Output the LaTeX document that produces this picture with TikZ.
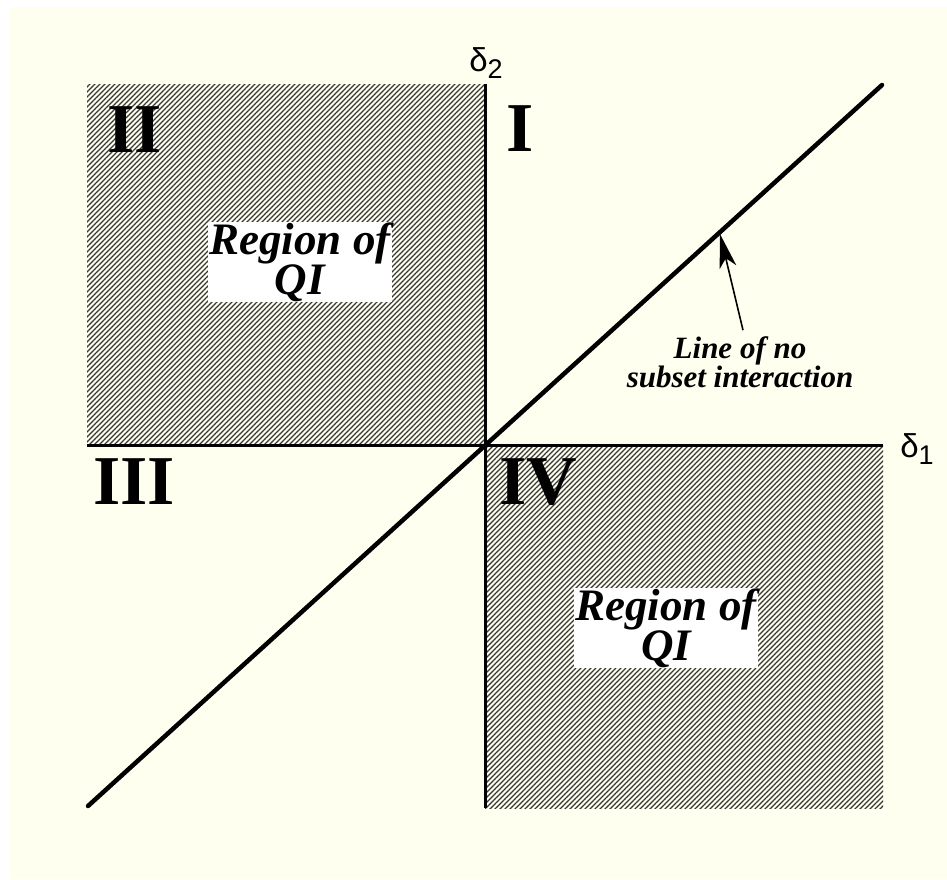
\documentclass[tikz,border=0pt]{standalone}
\usepackage{fontspec}
\setmainfont{Liberation Serif}
\newfontfamily\greekfont{Liberation Sans}
\usetikzlibrary{arrows.meta, patterns.meta, positioning}
\definecolor{bgCream}{HTML}{FFFFF0}
\definecolor{hatchGrey}{HTML}{333333}
\newcommand\dlab[1]{\fontsize{33}{33}\selectfont δ\raisebox{-7pt}{\fontsize{27}{27}\selectfont #1}}
\tikzset{
  axisline/.style  = {line width=3pt, black},
  noint/.style     = {line width=4.5pt, black},
  hatched/.style   = {pattern={Lines[angle=45, distance=3.5355pt, line width=1.3pt]},
                      pattern color=hatchGrey},
  quad/.style      = {font=\fontsize{70}{70}\selectfont\bfseries, inner sep=0pt},
  axlbl/.style     = {font=\greekfont, inner sep=0pt},
  qibox/.style     = {fill=white, inner sep=0pt, align=center,
                      minimum width=184pt, minimum height=72pt,
                      font=\fontsize{45}{36}\selectfont\bfseries\itshape},
  note/.style      = {font=\fontsize{31}{28}\selectfont\bfseries\itshape,
                      align=center, inner sep=0pt},
  pointer/.style   = {-{Stealth[length=34pt, width=17pt, inset=9pt]}, line width=1.6pt},
}
\begin{document}
\begin{tikzpicture}[x=1pt, y=-1pt]
  \useasboundingbox (0,0) rectangle (947,879);
  \fill[white] (0,0) rectangle (947,879);
  \fill[bgCream] (10,7) rectangle (947,879);
  % shaded quadrants
  \fill[hatched] (87,84) rectangle (485,445);
  \fill[hatched] (485,445) rectangle (883,808);
  \node[qibox] (qiTop) at (300,262) {Region of\\QI};
  \node[qibox] (qiBot) at (666,628) {Region of\\QI};
  % axes
  \coordinate (O)  at (485,445);
  \coordinate (xL) at (87,445);
  \coordinate (xR) at (883,445);
  \coordinate (yT) at (485,84);
  \coordinate (yB) at (485,808);
  \draw[axisline] (xL) -- (xR);
  \draw[axisline] (yT) -- (yB);
  \node[axlbl] (dOne) at (917,449) {\dlab{1}};
  \node[axlbl] (dTwo) at (486,63) {\dlab{2}};
  % diagonal
  \coordinate (dL) at (88,806);
  \coordinate (dR) at (882,85);
  \draw[noint, line cap=round] (dL) -- (dR);
  \node[quad] (qI)   at (520,129) {I};
  \node[quad] (qII)  at (135,130) {II};
  \node[quad] (qIII) at (134,482) {III};
  \node[quad] (qIV)  at (538,482) {IV};
  \node[note] (lineLbl) at (740,362) {Line of no\\subset interaction};
  \coordinate (tip) at (720,234);
  \draw[pointer] ([xshift=3pt, yshift=6pt]lineLbl.north) -- (tip);
\end{tikzpicture}
\end{document}
